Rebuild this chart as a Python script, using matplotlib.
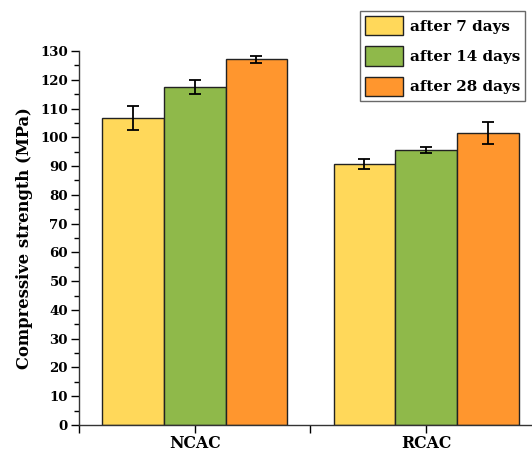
import matplotlib.pyplot as plt
from matplotlib.ticker import MultipleLocator
import numpy as np

groups = ["NCAC", "RCAC"]
series = ["after 7 days", "after 14 days", "after 28 days"]
strength = [
    [106.7, 90.7],
    [117.4, 95.5],
    [127.1, 101.4],
]
errors = [
    [4.2, 1.6],
    [2.5, 1.1],
    [1.2, 3.8],
]
colors = ["#FFD85A", "#8FB94A", "#FF962E"]

plt.rcParams['font.family'] = ['DejaVu Serif']
plt.rcParams['font.weight'] = 'bold'

fig = plt.figure(figsize=(5.32, 4.54), dpi=100)
ax = fig.add_axes([0.1485, 0.0639, 1.0 - 0.1485, 0.8877 - 0.0639])

pos = np.array([1, 3])
w = 0.533
for i in range(3):
    ax.bar(pos + (i - 1) * w, strength[i], w, color=colors[i], edgecolor='#222222',
           linewidth=1.0, label=series[i],
           yerr=errors[i], capsize=4, error_kw=dict(elinewidth=1.3, capthick=1.3, ecolor='black'))

ax.set_xlim(0, 3.915)
ax.set_ylim(0, 130)
ax.set_xticks([0, 1, 2, 3])
ax.set_xticklabels(["", groups[0], "", groups[1]])
ax.yaxis.set_major_locator(MultipleLocator(10))
ax.yaxis.set_minor_locator(MultipleLocator(5))
ax.tick_params(axis='both', which='major', direction='out', length=6, width=1, labelsize=9.6, pad=2)
ax.tick_params(axis='x', which='major', labelsize=11.3, pad=1.5)
ax.tick_params(axis='y', which='minor', direction='out', length=3.5, width=1)
for s in ['top', 'right']:
    ax.spines[s].set_visible(False)
for s in ['left', 'bottom']:
    ax.spines[s].set_linewidth(1.0)
    ax.spines[s].set_color('#333333')
ax.set_ylabel("Compressive strength (MPa)", fontsize=11.8, fontweight='bold', labelpad=5)

leg = ax.legend(loc='upper right', bbox_to_anchor=(0.985, 1.108), fontsize=10.9,
                frameon=True, fancybox=False, edgecolor='#444444', borderpad=0.35,
                handlelength=2.5, handleheight=1.6, handletextpad=0.45, labelspacing=0.72,
                borderaxespad=0)
leg.get_frame().set_linewidth(1.0)

fig.savefig("out.png", dpi=100)
